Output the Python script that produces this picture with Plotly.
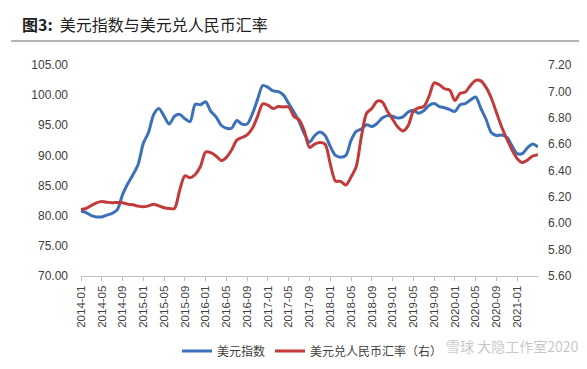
import plotly.graph_objects as go

# Monthly categories 2014-01 .. 2021-05
months = [f"{y}-{m:02d}" for y in range(2014, 2022) for m in range(1, 13)][:89]
tick_labels = months[::4][:22]

dxy = [80.8, 80.5, 80.0, 79.8, 79.8, 80.1, 80.4, 81.0, 83.5, 85.3,
       86.8, 88.5, 92.0, 93.8, 96.8, 97.8, 96.5, 95.2, 96.5, 96.8,
       96.1, 95.6, 98.5, 98.4, 98.9, 97.3, 96.4, 95.0, 94.5, 94.5,
       95.8, 95.2, 95.2, 96.9, 99.3, 101.6, 101.3, 100.7, 100.6, 100.0,
       98.6, 97.2, 95.6, 93.6, 92.2, 93.3, 93.9, 93.3, 91.5, 90.0,
       89.7, 90.0, 92.5, 94.0, 94.4, 95.1, 94.8, 95.3, 96.2, 96.6,
       96.5, 96.2, 96.4, 97.2, 97.5, 97.0, 97.4, 98.3, 98.6, 98.1,
       97.9, 97.6, 97.3, 98.4, 98.6, 99.2, 99.7, 97.8, 96.0, 93.8,
       93.3, 93.4, 93.0, 91.6, 90.3, 90.3, 91.3, 91.9, 91.4]

usdcny = [6.105, 6.112, 6.135, 6.155, 6.165, 6.160, 6.155, 6.158, 6.155, 6.145,
          6.140, 6.130, 6.125, 6.132, 6.145, 6.132, 6.118, 6.112, 6.112, 6.250,
          6.360, 6.345, 6.370, 6.430, 6.540, 6.535, 6.510, 6.475, 6.500, 6.555,
          6.630, 6.650, 6.670, 6.720, 6.810, 6.905, 6.895, 6.870, 6.885, 6.882,
          6.882, 6.810, 6.785, 6.700, 6.575, 6.600, 6.612, 6.600, 6.450, 6.320,
          6.318, 6.290, 6.350, 6.430, 6.660, 6.835, 6.870, 6.925, 6.920, 6.850,
          6.790, 6.730, 6.700, 6.740, 6.850, 6.875, 6.885, 6.960, 7.065, 7.050,
          7.020, 7.010, 6.930, 6.985, 6.995, 7.045, 7.084, 7.080, 7.030, 6.950,
          6.840, 6.730, 6.640, 6.555, 6.490, 6.460, 6.480, 6.510, 6.520]

names = ["美元指数", "美元兑人民币汇率（右）"]
colors = ["#3b71b8", "#c23a3a"]

fig = go.Figure()
fig.add_trace(go.Scatter(x=months, y=dxy, name=names[0], mode="lines",
                         line=dict(color=colors[0], width=3, shape="spline", smoothing=0.8)))
fig.add_trace(go.Scatter(x=months, y=usdcny, name=names[1], mode="lines", yaxis="y2",
                         line=dict(color=colors[1], width=3, shape="spline", smoothing=0.8)))

tick_font = dict(family="Liberation Sans, Arial", size=12, color="#404040")

fig.update_layout(
    width=587, height=369,
    margin=dict(l=73, r=57, t=57, b=92),
    paper_bgcolor="white", plot_bgcolor="white",
    showlegend=True,
    title=dict(text="<b>图3:</b>  美元指数与美元兑人民币汇率",
               x=14/587, xanchor="left", xref="container",
               y=1-17/369, yanchor="middle", yref="container",
               font=dict(family="Noto Sans CJK SC", size=16, color="#222222")),
    xaxis=dict(type="category", range=[0, 88], tickmode="array",
               tickvals=tick_labels, ticktext=tick_labels, tickangle=-90,
               showgrid=False, showline=True, linecolor="#bfbfbf", linewidth=1,
               ticks="outside", ticklen=4, tickcolor="#bfbfbf",
               tickfont=dict(family="Liberation Sans, Arial", size=11.5, color="#404040"),
               zeroline=False),
    yaxis=dict(range=[70, 105], dtick=5, tickformat=".2f", showgrid=False,
               showline=False, zeroline=False, ticks="", ticklabelstandoff=12,
               tickfont=tick_font),
    yaxis2=dict(range=[5.6, 7.2], dtick=0.2, tickformat=".2f", overlaying="y",
                side="right", showgrid=False, showline=False, zeroline=False,
                ticks="", ticklabelstandoff=9, tickfont=tick_font),
    legend=dict(orientation="h", x=(169-73)/457, xanchor="left",
                y=-(340-277)/220, yanchor="top",
                font=dict(family="Noto Sans CJK SC", size=12, color="#404040"),
                itemwidth=30, tracegroupgap=0, bgcolor="rgba(0,0,0,0)"),
    shapes=[dict(type="line", xref="paper", yref="paper",
                 x0=(3-73)/457, x1=(587-73)/457,
                 y0=(277-32)/220, y1=(277-32)/220,
                 line=dict(color="#b5b5b5", width=2))],
    annotations=[
        dict(text="雪球 大隐工作室2020", xref="paper", yref="paper",
             x=(572-73)/457, y=-(350-277)/220, xanchor="right", yanchor="middle",
             showarrow=False,
             font=dict(family="Noto Sans CJK SC", size=14, color="rgba(150,150,150,0.55)")),
    ],
)

fig.write_html("out.html")
